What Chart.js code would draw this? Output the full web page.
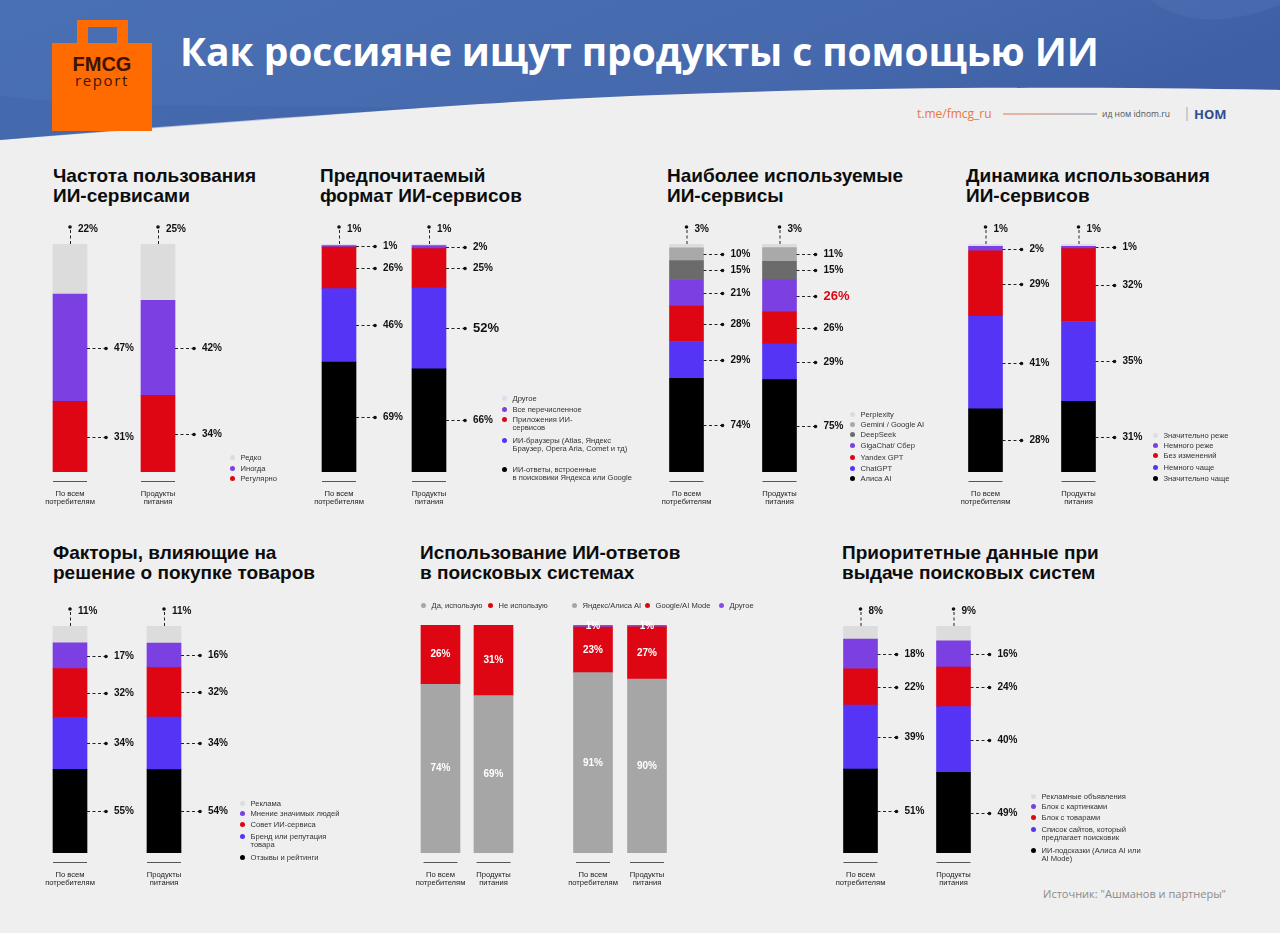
<!DOCTYPE html>
<html lang="ru">
<head>
<meta charset="utf-8">
<title>Как россияне ищут продукты с помощью ИИ</title>
<script src="https://cdn.jsdelivr.net/npm/chart.js@4.4.1/dist/chart.umd.min.js"></script>
<style>
  html, body { margin: 0; padding: 0; }
  body {
    width: 1280px; height: 933px; position: relative; overflow: hidden;
    background: #efefef; font-family: "Liberation Sans", Arial, sans-serif; color: #111;
  }
  .abs { position: absolute; }
  .title { font-weight: 700; font-size: 19px; line-height: 20px; color: #0c0c0c; white-space: nowrap; }
  .leg { position: absolute; font-size: 7.6px; line-height: 8.5px; color: #333; white-space: pre-line; padding-left: 11px; z-index: 2; }
  .leg i { position: absolute; left: 0; top: 1.8px; width: 5px; height: 5px; border-radius: 50%; }
  canvas { position: absolute; z-index: 1; }
</style>
</head>
<body>

<!-- шапка -->
<svg class="abs" style="left:0;top:0" width="1280" height="150">
  <defs>
    <linearGradient id="hg" x1="0" y1="0" x2="1" y2="0.3">
      <stop offset="0" stop-color="#4a70b4"/>
      <stop offset="0.7" stop-color="#4669ad"/>
      <stop offset="1" stop-color="#3e5fa5"/>
    </linearGradient>
    <linearGradient id="lg" gradientUnits="userSpaceOnUse" x1="1003" y1="0" x2="1097" y2="0">
      <stop offset="0" stop-color="#e8773f"/>
      <stop offset="1" stop-color="#7d8fb3"/>
    </linearGradient>
  </defs>
  <rect width="1280" height="150" fill="#efefef"/>
  <path d="M0 0 H1280 V90 C1050 86 760 86 480 104 C300 116 140 128 0 140 Z" fill="url(#hg)"/>
  <path d="M0 96 C120 110 260 104 420 108 L0 140 Z" fill="#3f62a6" opacity="0.35"/>
  <path d="M1150 0 C1190 30 1240 20 1280 5 V0 Z" fill="#5b7fbf" opacity="0.25"/>
  <!-- логотип -->
  <path d="M77 45 V20 H128 V45 H117 V27 H88 V45 Z" fill="#ff6b00"/>
  <rect x="52" y="43" width="100" height="88" fill="#ff6b00"/>
  <text x="102" y="71" text-anchor="middle" font-family="Liberation Sans, Arial" font-weight="700" font-size="20" fill="#3b1406">FMCG</text>
  <text x="102" y="86" text-anchor="middle" font-family="Open Sans" font-size="15" letter-spacing="1.6" fill="#3b1406">report</text>
  <!-- контакты -->
  <text x="917" y="118" font-family="Open Sans" font-size="12" fill="#e8773f">t.me/fmcg_ru</text>
  <line x1="1003" y1="114" x2="1097" y2="114" stroke="url(#lg)" stroke-width="1.2"/>
  <text x="1102" y="117" font-family="Open Sans" font-size="8.5" fill="#555">ид ном idnom.ru</text>
  <line x1="1187" y1="107" x2="1187" y2="121" stroke="#999" stroke-width="0.8"/>
  <text x="1194" y="119" font-family="Open Sans" font-weight="700" font-size="13" fill="#2d4f8f">НОМ</text>
</svg>
<div class="abs" style="left:180px;top:28px;font-family:'Open Sans';font-weight:700;font-size:39px;line-height:46px;color:#fff;white-space:nowrap;letter-spacing:-0.1px">Как россияне ищут продукты с помощью ИИ</div>

<!-- заголовки блоков -->
<div class="abs title" style="left:53px;top:166px">Частота пользования<br>ИИ-сервисами</div>
<div class="abs title" style="left:320px;top:166px">Предпочитаемый<br>формат ИИ-сервисов</div>
<div class="abs title" style="left:667px;top:166px">Наиболее используемые<br>ИИ-сервисы</div>
<div class="abs title" style="left:966px;top:166px">Динамика использования<br>ИИ-сервисов</div>
<div class="abs title" style="left:53px;top:543px">Факторы, влияющие на<br>решение о покупке товаров</div>
<div class="abs title" style="left:420px;top:543px">Использование ИИ-ответов<br>в поисковых системах</div>
<div class="abs title" style="left:842px;top:543px">Приоритетные данные при<br>выдаче поисковых систем</div>

<div class="abs" style="left:1000px;top:886px;width:226px;text-align:right;font-family:'Open Sans';font-size:11px;color:#8a8a8a">Источник: "Ашманов и партнеры"</div>

<script>
// ---------- данные ----------
const barLabels = [['По всем', 'потребителям'], ['Продукты', 'питания']];

// 1. Частота пользования ИИ-сервисами (серии снизу вверх)
const freqSeries = ['Регулярно', 'Иногда', 'Редко'];
const freqAll = [31, 47, 22];
const freqFood = [34, 42, 25];

// 2. Предпочитаемый формат ИИ-сервисов
const formatSeries = ['ИИ-ответы, встроенные\nв поисковики Яндекса или Google', 'ИИ-браузеры (Atlas, Яндекс\nБраузер, Opera Aria, Comet и тд)', 'Приложения ИИ-\nсервисов', 'Все перечисленное', 'Другое'];
const formatAll = [69, 46, 26, 1, 1];
const formatFood = [66, 52, 25, 2, 1];

// 3. Наиболее используемые ИИ-сервисы
const serviceSeries = ['Алиса AI', 'ChatGPT', 'Yandex GPT', 'GigaChat/ Сбер', 'DeepSeek', 'Gemini / Google AI', 'Perplexity'];
const serviceAll = [74, 29, 28, 21, 15, 10, 3];
const serviceFood = [75, 29, 26, 26, 15, 11, 3];

// 4. Динамика использования ИИ-сервисов
const dynSeries = ['Значительно чаще', 'Немного чаще', 'Без изменений', 'Немного реже', 'Значительно реже'];
const dynAll = [28, 41, 29, 2, 1];
const dynFood = [31, 35, 32, 1, 1];

// 5. Факторы, влияющие на решение о покупке
const factorSeries = ['Отзывы и рейтинги', 'Бренд или репутация\nтовара', 'Совет ИИ-сервиса', 'Мнение значимых людей', 'Реклама'];
const factorAll = [55, 34, 32, 17, 11];
const factorFood = [54, 34, 32, 16, 11];

// 6. Использование ИИ-ответов в поисковых системах
const usageSeries = ['Да, использую', 'Не использую'];
const usageAll = [74, 26];
const usageFood = [69, 31];
const engineSeries = ['Яндекс/Алиса AI', 'Google/AI Mode', 'Другое'];
const engineAll = [91, 23, 1];
const engineFood = [90, 27, 1];

// 7. Приоритетные данные при выдаче поисковых систем
const prioritySeries = ['ИИ-подсказки (Алиса AI или\nAI Mode)', 'Список сайтов, который\nпредлагает поисковик', 'Блок с товарами', 'Блок с картинками', 'Рекламные объявления'];
const priorityAll = [51, 39, 22, 18, 8];
const priorityFood = [49, 40, 24, 16, 9];

// ---------- цвета ----------
const C = {
  black: '#000000', blue: '#5634f5', red: '#df0613', purple: '#7c3fe2',
  light: '#dcdcdc', lavender: '#dedcee', dark: '#6b6b6b', mid: '#a9a9a9', gray: '#a6a6a6'
};
const FONT = '"Liberation Sans", Arial, sans-serif';

// подписи с пунктирными выносками
const leaderPlugin = {
  id: 'leaders',
  afterDatasetsDraw(chart, args, opts) {
    const ctx = chart.ctx;
    const sets = chart.data.datasets;
    const last = sets.length - 1;
    ctx.save();
    sets.forEach((ds, di) => {
      chart.getDatasetMeta(di).data.forEach((bar, bi) => {
        const p = bar.getProps(['x', 'y', 'base', 'width'], true);
        const top = Math.min(p.y, p.base), bottom = Math.max(p.y, p.base);
        const txt = ds.values[bi] + '%';
        const hl = opts.highlight && opts.highlight.series === di && opts.highlight.bar === bi;
        ctx.font = `bold ${hl ? opts.highlight.size : 10}px ${FONT}`;
        ctx.textBaseline = 'middle';
        if (opts.inside) {
          ctx.fillStyle = '#fff';
          ctx.textAlign = 'center';
          ctx.fillText(txt, p.x, (top + bottom) / 2);
          return;
        }
        let dx, dy;
        ctx.strokeStyle = '#222';
        ctx.lineWidth = 1;
        ctx.setLineDash([3, 2.5]);
        ctx.beginPath();
        if (di === last) {
          dx = p.x; dy = top - 17;
          ctx.moveTo(p.x + 0.5, top);
          ctx.lineTo(p.x + 0.5, dy);
        } else {
          dx = p.x + p.width / 2 + 19; dy = Math.round((top + bottom) / 2) + 0.5;
          ctx.moveTo(p.x + p.width / 2, dy);
          ctx.lineTo(dx, dy);
        }
        ctx.stroke();
        ctx.setLineDash([]);
        ctx.fillStyle = '#111';
        ctx.beginPath();
        ctx.arc(dx, dy, 1.8, 0, Math.PI * 2);
        ctx.fill();
        ctx.fillStyle = hl ? opts.highlight.color : '#111';
        ctx.textAlign = 'left';
        ctx.fillText(txt, dx + 8, di === last ? dy + 2 : dy);
      });
    });
    // короткие линии над подписями категорий
    ctx.strokeStyle = '#555';
    ctx.lineWidth = 1;
    chart.getDatasetMeta(0).data.forEach(bar => {
      const y = Math.round(chart.chartArea.bottom + 9) + 0.5;
      ctx.beginPath();
      ctx.moveTo(bar.x - 17, y);
      ctx.lineTo(bar.x + 17, y);
      ctx.stroke();
    });
    ctx.restore();
  }
};

function stackPanel(box, series, barValues, colors, leaderOpts) {
  const totals = barValues.map(vals => vals.reduce((a, b) => a + b, 0));
  const datasets = series.map((name, si) => ({
    label: name,
    values: barValues.map(vals => vals[si]),
    data: barValues.map((vals, bi) => vals[si] / totals[bi] * 100),
    backgroundColor: colors[si],
    borderWidth: 0,
    barThickness: box.barWidth || 34,
  }));
  const padL = 20, padR = 60, padT = 34, h = 300;
  const cv = document.createElement('canvas');
  cv.width = box.width + padL + padR;
  cv.height = h;
  cv.style.left = (box.left - padL) + 'px';
  cv.style.top = (box.top - padT) + 'px';
  document.body.appendChild(cv);
  const axisH = h - padT - (box.bottom - box.top);
  return new Chart(cv, {
    type: 'bar',
    data: { labels: barLabels, datasets },
    plugins: [leaderPlugin],
    options: {
      responsive: false,
      animation: false,
      events: [],
      layout: { padding: { left: padL, right: padR, top: padT, bottom: 0 } },
      plugins: {
        legend: { display: false },
        tooltip: { enabled: false },
        leaders: leaderOpts || {}
      },
      scales: {
        x: {
          stacked: true,
          grid: { display: false },
          border: { display: false },
          ticks: {
            color: '#222', autoSkip: false, maxRotation: 0, padding: 10,
            font: { size: 7.6, family: FONT, lineHeight: 1.05 }
          },
          afterFit: s => { s.height = axisH; }
        },
        y: { stacked: true, display: false, min: 0, max: 100 }
      }
    }
  });
}

function legend(dotX, ys, series, colors, row) {
  // легенда идёт сверху вниз, т.е. в обратном порядке серий
  const names = series.slice().reverse();
  const cols = colors.slice().reverse();
  names.forEach((name, i) => {
    const d = document.createElement('div');
    d.className = 'leg';
    d.style.left = (row ? ys.x[i] : dotX) - 2.5 + 'px';
    d.style.top = (row ? ys.y : ys[i]) - 4.3 + 'px';
    d.innerHTML = `<i style="background:${cols[i]}"></i>`;
    d.appendChild(document.createTextNode(name));
    document.body.appendChild(d);
  });
}

const row1 = { top: 244, bottom: 472 };
const row2 = { top: 626, bottom: 853 };

const freqColors = [C.red, C.purple, C.light];
stackPanel({ left: 26, width: 176, ...row1 }, freqSeries, [freqAll, freqFood], freqColors);
legend(232, [458, 469, 479], freqSeries, freqColors);

const formatColors = [C.black, C.blue, C.red, C.purple, C.lavender];
stackPanel({ left: 294, width: 180, ...row1 }, formatSeries, [formatAll, formatFood], formatColors,
  { highlight: { series: 1, bar: 1, size: 13, color: '#111' } });
legend(504, [399, 410, 420, 441, 470], formatSeries, formatColors);

const serviceColors = [C.black, C.blue, C.red, C.purple, C.dark, C.mid, C.light];
stackPanel({ left: 639.5, width: 186, ...row1 }, serviceSeries, [serviceAll, serviceFood], serviceColors,
  { highlight: { series: 3, bar: 1, size: 13, color: '#df0613' } });
legend(852, [415, 425, 435, 446, 458, 469, 479], serviceSeries, serviceColors);

const dynColors = [C.black, C.blue, C.red, C.purple, C.lavender];
stackPanel({ left: 938.5, width: 186, ...row1 }, dynSeries, [dynAll, dynFood], dynColors);
legend(1155, [436, 446, 456, 468, 479], dynSeries, dynColors);

const factorColors = [C.black, C.blue, C.red, C.purple, C.light];
stackPanel({ left: 23, width: 188, ...row2 }, factorSeries, [factorAll, factorFood], factorColors);
legend(242, [804, 814, 825, 837, 858], factorSeries, factorColors);

const usageColors = [C.gray, C.red];
stackPanel({ left: 414, width: 106, barWidth: 39, top: 625, bottom: 853 }, usageSeries, [usageAll, usageFood], usageColors, { inside: true });
legend(0, { y: 606, x: [490, 423] }, usageSeries, usageColors, true);

const engineColors = [C.gray, C.red, '#8a4be6'];
stackPanel({ left: 565.5, width: 108, barWidth: 39, top: 625, bottom: 853 }, engineSeries, [engineAll, engineFood], engineColors, { inside: true });
legend(0, { y: 606, x: [721, 647, 574] }, engineSeries, engineColors, true);

const priorityColors = [C.black, C.blue, C.red, C.purple, C.light];
stackPanel({ left: 813.5, width: 186, ...row2 }, prioritySeries, [priorityAll, priorityFood], priorityColors);
legend(1033, [797, 807, 818, 830, 851], prioritySeries, priorityColors);
</script>
</body>
</html>
